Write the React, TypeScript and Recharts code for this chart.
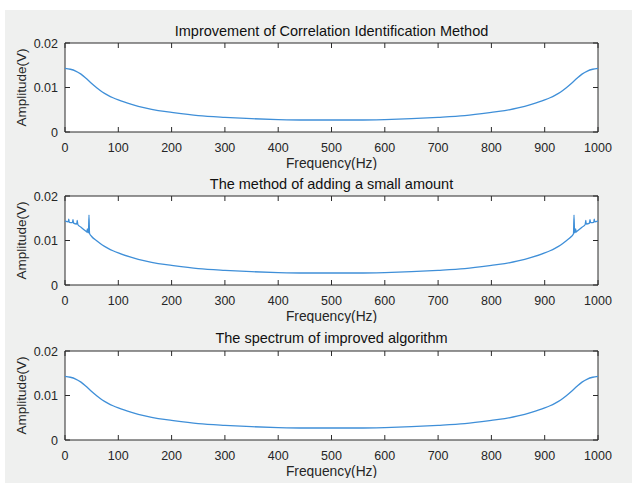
import { LineChart, Line, XAxis, YAxis, CartesianGrid, ReferenceArea, Label } from 'recharts';

// frequency grid (Hz) for the smooth spectra
const freqs = [0, 10, 20, 30, 40, 50, 60, 70, 80, 90, 100, 125, 150, 175, 200, 250, 300, 350, 400, 450, 500,
    550, 600, 650, 700, 750, 800, 825, 850, 875, 900, 910, 920, 930, 940, 950, 960, 970, 980, 990, 1000];

// amplitude (V) — Improvement of Correlation Identification Method
const ampCorrelation = [0.0143, 0.0141, 0.0137, 0.0130, 0.0120, 0.0109, 0.0099, 0.0090, 0.0083, 0.0077, 0.0072,
    0.0062, 0.0054, 0.0048, 0.0044, 0.0037, 0.0033, 0.0030, 0.0028, 0.0027, 0.0027,
    0.0027, 0.0028, 0.0030, 0.0033, 0.0037, 0.0044, 0.0048, 0.0054, 0.0062, 0.0072,
    0.0077, 0.0083, 0.0090, 0.0099, 0.0109, 0.0120, 0.0130, 0.0137, 0.0141, 0.0143];

// amplitude (V) — The spectrum of improved algorithm
const ampImproved = [0.0143, 0.0141, 0.0137, 0.0130, 0.0120, 0.0109, 0.0099, 0.0090, 0.0083, 0.0077, 0.0072,
    0.0062, 0.0054, 0.0048, 0.0044, 0.0037, 0.0033, 0.0030, 0.0028, 0.0027, 0.0027,
    0.0027, 0.0028, 0.0030, 0.0033, 0.0037, 0.0044, 0.0048, 0.0054, 0.0062, 0.0072,
    0.0077, 0.0083, 0.0090, 0.0099, 0.0109, 0.0120, 0.0130, 0.0137, 0.0141, 0.0143];

// The method of adding a small amount (has spikes near both ends)
const freqsSmall = [0, 6, 7, 8, 14, 15, 16, 22, 23, 24, 30, 40, 41, 42, 43, 44, 45, 46, 50, 60, 70, 80, 90, 100,
    125, 150, 175, 200, 250, 300, 350, 400, 450, 500, 550, 600, 650, 700, 750, 800, 825, 850, 875, 900,
    910, 920, 930, 940, 950, 954, 955, 956, 957, 958, 959, 960, 970, 976, 977, 978, 984, 985, 986, 992, 993, 994, 1000];
const ampSmall = [0.0144, 0.0142, 0.0148, 0.0141, 0.0140, 0.0147, 0.0139, 0.0137, 0.0145, 0.0136, 0.0130, 0.0120,
    0.0119, 0.0126, 0.0118, 0.0117, 0.0157, 0.0116, 0.0109, 0.0099, 0.0090, 0.0083, 0.0077, 0.0072,
    0.0062, 0.0054, 0.0048, 0.0044, 0.0037, 0.0033, 0.0030, 0.0028, 0.0027, 0.0027, 0.0027, 0.0028, 0.0030,
    0.0033, 0.0037, 0.0044, 0.0048, 0.0054, 0.0062, 0.0072,
    0.0077, 0.0083, 0.0090, 0.0099, 0.0109, 0.0115, 0.0157, 0.0117, 0.0118, 0.0126, 0.0119, 0.0120, 0.0130,
    0.0136, 0.0145, 0.0137, 0.0139, 0.0147, 0.0140, 0.0141, 0.0148, 0.0142, 0.0144];

const xTicks = [0, 100, 200, 300, 400, 500, 600, 700, 800, 900, 1000];
const yTicks = [0, 0.01, 0.02];
const titles = [
    'Improvement of Correlation Identification Method',
    'The method of adding a small amount',
    'The spectrum of improved algorithm',
];

const PLOT_W = 533;
const PLOT_H = 89;
const AXIS = '#2b2b2b';
const TXT = '#262626';
const LINE = '#3f8fd8';
const FONT = '"Liberation Sans", Arial, sans-serif';

const XTick = (props: any) => {
    const { x, y, payload } = props;
    return (
        <g>
            <line x1={x} y1={y} x2={x} y2={y - 5} stroke={AXIS} />
            <line x1={x} y1={y - PLOT_H} x2={x} y2={y - PLOT_H + 5} stroke={AXIS} />
            <text x={x} y={y + 19.5} textAnchor="middle" fill={TXT} fontSize={12.5} fontFamily={FONT}>
                {payload.value}
            </text>
        </g>
    );
};

const YTick = (props: any) => {
    const { x, y, payload } = props;
    return (
        <g>
            <line x1={x} y1={y} x2={x + 5} y2={y} stroke={AXIS} />
            <line x1={x + PLOT_W} y1={y} x2={x + PLOT_W - 5} y2={y} stroke={AXIS} />
            <text x={x - 7} y={y + 4.5} textAnchor="end" fill={TXT} fontSize={12.5} fontFamily={FONT}>
                {payload.value}
            </text>
        </g>
    );
};

function Panel({ xs, ys, top, title, titleY }: { xs: number[]; ys: number[]; top: number; title: string; titleY: number }) {
    const data = xs.map((f, i) => ({ f, a: ys[i] }));
    return (
        <div style={{ position: 'absolute', left: 0, top, width: 635, height: 170 }}>
            <div style={{ position: 'absolute', left: 65, width: PLOT_W, top: titleY - 9, height: 18, lineHeight: '18px',
                textAlign: 'center', fontFamily: FONT, fontSize: 14.5, color: '#111', whiteSpace: 'nowrap' }}>
                {title}
            </div>
            <LineChart width={635} height={170} data={data} margin={{ top: 43, right: 37, bottom: 2, left: 0 }}>
                <CartesianGrid fill="#fff" horizontal={false} vertical={false} stroke="none" />
                <XAxis dataKey="f" type="number" domain={[0, 1000]} ticks={xTicks} height={36}
                    axisLine={false} tickLine={false} tickSize={0} tickMargin={0} tick={<XTick />} interval={0}>
                    <Label value="Frequency(Hz)" position="insideBottom" offset={0}
                        style={{ fontFamily: FONT, fontSize: 13.8, fill: TXT }} />
                </XAxis>
                <YAxis type="number" domain={[0, 0.02]} ticks={yTicks} width={65}
                    axisLine={false} tickLine={false} tickSize={0} tickMargin={0} tick={<YTick />} interval={0}>
                    <Label value="Amplitude(V)" angle={-90} position="insideLeft" offset={21}
                        style={{ textAnchor: 'middle', fontFamily: FONT, fontSize: 13.5, fill: TXT }} />
                </YAxis>
                <ReferenceArea x1={0} x2={1000} y1={0} y2={0.02} fill="none" fillOpacity={0} stroke={AXIS} strokeWidth={1} ifOverflow="visible" />
                <Line type="monotone" dataKey="a" stroke={LINE} strokeWidth={1.3} dot={false} isAnimationActive={false} />
            </LineChart>
        </div>
    );
}

export default function App() {
    return (
        <div style={{ position: 'absolute', left: 0, top: 0, width: 635, height: 483, background: '#fff', overflow: 'hidden' }}>
            <div style={{ position: 'absolute', left: 5, top: 10, width: 627, height: 473, background: '#eff0ef' }} />
            <Panel xs={freqs} ys={ampCorrelation} top={0} title={titles[0]} titleY={30.5} />
            <Panel xs={freqsSmall} ys={ampSmall} top={153} title={titles[1]} titleY={30.5} />
            <Panel xs={freqs} ys={ampImproved} top={308} title={titles[2]} titleY={29.5} />
        </div>
    );
}
